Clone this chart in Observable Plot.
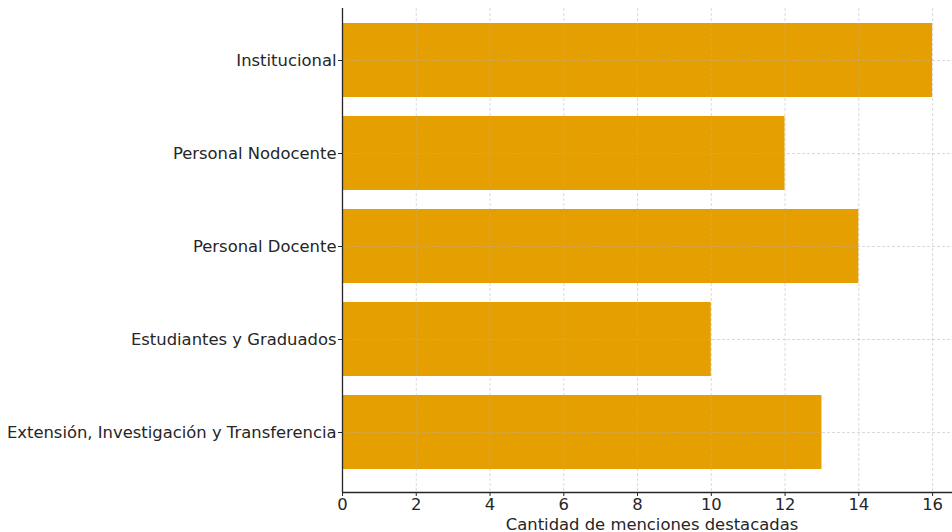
<!DOCTYPE html>
<html>
<head>
<meta charset="utf-8">
<script src="https://cdn.jsdelivr.net/npm/d3@7"></script>
<script src="https://cdn.jsdelivr.net/npm/@observablehq/plot@0.6"></script>
<style>
  html, body { margin: 0; padding: 0; background: #fff; }
  #chart svg { display: block; }
</style>
</head>
<body>
<div id="chart"></div>
<script>
const categories = [
  "Institucional",
  "Personal Nodocente",
  "Personal Docente",
  "Estudiantes y Graduados",
  "Extensión, Investigación y Transferencia"
];
const counts = [16, 12, 14, 10, 13];
const xTicks = [0, 2, 4, 6, 8, 10, 12, 14, 16];
const xLabel = "Cantidad de menciones destacadas";

const data = categories.map((c, i) => ({category: c, count: counts[i]}));

const W = 952, H = 532;
const mL = 342, mR = 0, mT = 8, mB = 40;
const FS = 16.4;

const bottomSpine = (index, scales, values, dims) => {
  const g = d3.create("svg:g");
  g.append("line")
    .attr("x1", dims.marginLeft)
    .attr("x2", dims.width - dims.marginRight)
    .attr("y1", dims.height - dims.marginBottom + 0.5)
    .attr("y2", dims.height - dims.marginBottom + 0.5)
    .attr("stroke", "#262626")
    .attr("stroke-width", 1.3);
  return g.node();
};

const chart = Plot.plot({
  width: W,
  height: H,
  marginLeft: mL,
  marginRight: mR,
  marginTop: mT,
  marginBottom: mB,
  style: {fontFamily: "'DejaVu Sans', sans-serif", fontSize: FS + "px", color: "#262626", background: "#fff"},
  x: {domain: [0, 16.54]},
  y: {domain: categories, paddingInner: 0.2, paddingOuter: 0.195, align: 0.4},
  marks: [
    Plot.barX(data, {x: "count", y: "category", fill: "#E69F00"}),
    Plot.gridX(xTicks, {stroke: "#b0b0b0", strokeOpacity: 0.6, strokeDasharray: "3,2", strokeWidth: 0.8}),
    Plot.gridY(categories, {stroke: "#b0b0b0", strokeOpacity: 0.6, strokeDasharray: "3,2", strokeWidth: 0.8}),
    Plot.axisX({ticks: xTicks, tickSize: 4, tickPadding: 2, label: null, fontSize: FS}),
    Plot.axisY({tickSize: 4, tickPadding: 2, label: null, fontSize: FS}),
    Plot.text([xLabel], {frameAnchor: "bottom", text: d => d, dx: 4.5, dy: 37, lineAnchor: "bottom", fontSize: FS, fill: "#262626"}),
    Plot.ruleX([0], {stroke: "#262626", strokeWidth: 1.3}),
    bottomSpine
  ]
});
document.getElementById("chart").appendChild(chart);
</script>
</body>
</html>
